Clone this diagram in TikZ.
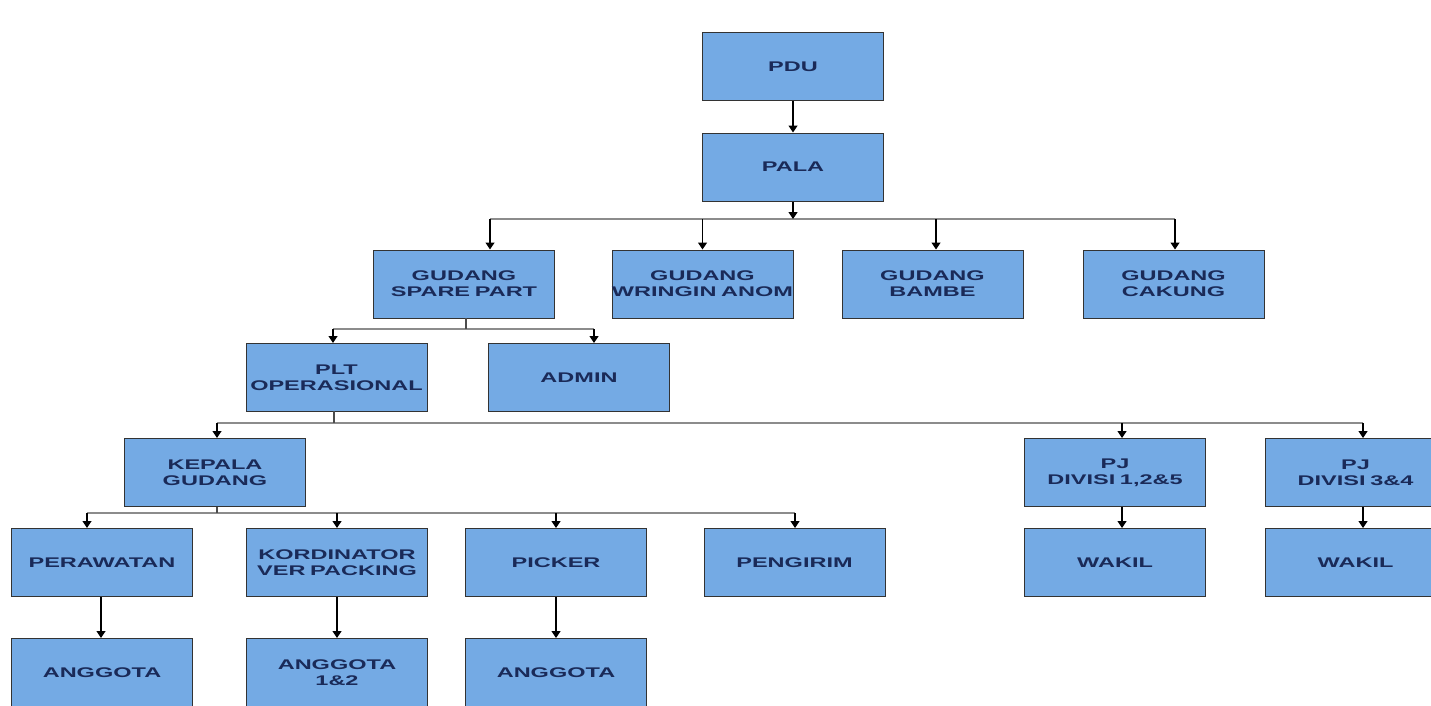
\documentclass[tikz,border=0pt]{standalone}
\usepackage{fontspec}
\setmainfont{Liberation Sans}[FakeStretch=1.68]
\usetikzlibrary{arrows.meta,calc}
\definecolor{boxblue}{RGB}{116,170,228}
\definecolor{navy}{RGB}{26,42,88}
\begin{document}
\begin{tikzpicture}[x=1pt,y=-1pt,
  orgbox/.style={draw=black!80,line width=1pt,fill=boxblue,minimum width=181pt,minimum height=68pt,
    text width=179pt,inner sep=0pt,align=center,text=navy,font=\fontsize{14}{16}\selectfont\bfseries},
  arr/.style={draw=black,line width=1.2pt,-{Triangle[width=9pt,length=7pt]}},
  busline/.style={draw=black!45,line width=1.4pt},
  stem/.style={draw=black!70,line width=1.2pt}]
\useasboundingbox (0,0) rectangle (1431,705);
\fill[white] (0,0) rectangle (1431,705);
\clip (0,0) rectangle (1431,705);

% nodes
\node[orgbox] (pdu) at (793,66.5) {PDU};
\node[orgbox] (pala) at (793,167) {PALA};
\node[orgbox] (spare) at (464,284) {GUDANG\\SPARE PART};
\node[orgbox] (wringin) at (702.5,284) {GUDANG\\\makebox[0pt]{WRINGIN ANOM}};
\node[orgbox] (bambe) at (932.5,284) {GUDANG\\BAMBE};
\node[orgbox] (cakung) at (1173.5,284) {GUDANG\\CAKUNG};
\node[orgbox] (plt) at (336.5,377.5) {PLT\\OPERASIONAL};
\node[orgbox] (admin) at (579,377.5) {ADMIN};
\node[orgbox] (kepala) at (215,472.5) {KEPALA\\GUDANG};
\node[orgbox] (pja) at (1115,472.5) {PJ\\DIVISI 1,2\&5};
\node[orgbox] (pjb) at (1355.5,472.5) {PJ\\DIVISI 3\&4};
\node[orgbox] (wakila) at (1115,562.5) {WAKIL};
\node[orgbox] (wakilb) at (1355.5,562.5) {WAKIL};
\node[orgbox] (perawatan) at (102,562.5) {PERAWATAN};
\node[orgbox] (kord) at (337,562.5) {KORDINATOR\\VER PACKING};
\node[orgbox] (picker) at (556,562.5) {PICKER};
\node[orgbox] (pengirim) at (794.5,562.5) {PENGIRIM};
\node[orgbox] (ang1) at (102,672.5) {ANGGOTA};
\node[orgbox] (ang2) at (337,672.5) {ANGGOTA\\1\&2};
\node[orgbox] (ang3) at (556,672.5) {ANGGOTA};

% PDU -> PALA
\draw[arr] (pdu.south) -- (pala.north);

% PALA -> gudang row
\coordinate (busA) at (793,219);
\coordinate (a1) at (490,219);
\coordinate (a2) at (702.5,219);
\coordinate (a3) at (936,219);
\coordinate (a4) at (1175,219);
\draw[busline] (a1) -- (a4);
\draw[arr] (pala.south) -- (busA);
\draw[arr] (a1) -- (a1 |- spare.north);
\draw[arr] (a2) -- (a2 |- wringin.north);
\draw[arr] (a3) -- (a3 |- bambe.north);
\draw[arr] (a4) -- (a4 |- cakung.north);

% spare part -> PLT, ADMIN
\coordinate (sB) at (466,318);
\coordinate (b0) at (466,329);
\coordinate (b1) at (333,329);
\coordinate (b2) at (594,329);
\draw[busline] (b1) -- (b2);
\draw[stem] (sB) -- (b0);
\draw[arr] (b1) -- (b1 |- plt.north);
\draw[arr] (b2) -- (b2 |- admin.north);

% PLT -> kepala, PJ
\coordinate (pB) at (334,411);
\coordinate (c0) at (334,423);
\coordinate (c1) at (217,423);
\coordinate (c2) at (1122,423);
\coordinate (c3) at (1363,423);
\draw[busline] (c1) -- (c3);
\draw[stem] (pB) -- (c0);
\draw[arr] (c1) -- (c1 |- kepala.north);
\draw[arr] (c2) -- (c2 |- pja.north);
\draw[arr] (c3) -- (c3 |- pjb.north);

% PJ -> WAKIL
\draw[arr] (c2 |- pja.south) -- (c2 |- wakila.north);
\draw[arr] (c3 |- pjb.south) -- (c3 |- wakilb.north);

% kepala -> staff row
\coordinate (kB) at (217,507);
\coordinate (d0) at (217,513);
\coordinate (d1) at (87,513);
\coordinate (d2) at (337,513);
\coordinate (d3) at (556,513);
\coordinate (d4) at (795,513);
\draw[busline] (d1) -- (d4);
\draw[stem] (kB) -- (d0);
\draw[arr] (d1) -- (d1 |- perawatan.north);
\draw[arr] (d2) -- (d2 |- kord.north);
\draw[arr] (d3) -- (d3 |- picker.north);
\draw[arr] (d4) -- (d4 |- pengirim.north);

% staff -> anggota
\coordinate (e1) at (101,597);
\draw[arr] (e1) -- (e1 |- ang1.north);
\draw[arr] (kord.south) -- (ang2.north);
\draw[arr] (picker.south) -- (ang3.north);
\end{tikzpicture}
\end{document}
